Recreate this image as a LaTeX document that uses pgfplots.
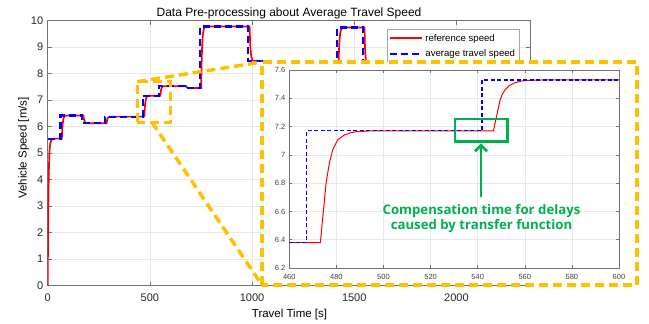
\documentclass[border=0pt]{standalone}
\usepackage{pgfplots}
\pgfplotsset{compat=1.18}
\usepackage{fontspec}
\setmainfont{Liberation Sans}
\newfontfamily\annofont{Open Sans}
\usetikzlibrary{arrows.meta}
\definecolor{myorange}{HTML}{FFC000}
\definecolor{mygreen}{HTML}{00B050}
\definecolor{myblue}{HTML}{0000FF}
\definecolor{axgray}{gray}{0.45}
\begin{document}
\begin{tikzpicture}[x=1pt,y=1pt]
\useasboundingbox (0pt,0pt) rectangle (649pt,324pt);
\begin{axis}[
  at={(47.7pt,38.3pt)}, anchor=south west, scale only axis,
  width=482.3pt, height=265pt,
  xmin=0, xmax=2360, ymin=0, ymax=10,
  xtick={0,500,1000,1500,2000}, ytick={0,1,2,3,4,5,6,7,8,9,10},
  grid=major, major grid style={gray!18, line width=0.5pt},
  axis line style={axgray, line width=0.6pt}, tick style={axgray, line width=0.6pt},
  tick align=inside, major tick length=4pt,
  /pgf/number format/assume math mode=true,
  /pgf/number format/1000 sep={},
  ticklabel style={font=\fontsize{11}{12}\selectfont, text=black!85},
  xticklabel style={yshift=-4.5pt},
  yticklabel style={xshift=-1pt},
  legend style={at={(axis description cs:0.7035,0.9675)}, anchor=north west,
    draw=gray!70, line width=0.5pt, font=\fontsize{9.6}{10}\selectfont,
    inner xsep=2pt, inner ysep=2.5pt, row sep=3.5pt, fill=white},
  legend cell align=left,
  legend image code/.code={\draw[#1] (0pt,0pt) -- (32pt,0pt);},
]
\addplot[red, line width=1.7pt] coordinates {
(0,0) (2,2.2) (4,3.6) (6,4.45) (8,4.95) (10,5.2) (13,5.38) (17,5.48) (25,5.54) (35,5.55)
(69,5.55) (71,5.89) (73,6.10) (77,6.30) (83,6.40) (93,6.42)
(175,6.42) (177,6.31) (179,6.24) (183,6.17) (189,6.14) (199,6.13)
(288,6.13) (290,6.23) (292,6.29) (296,6.345) (302,6.375) (312,6.38)
(473,6.38) (475,6.69) (477,6.88) (481,7.06) (487,7.15) (497,7.17)
(551,7.17) (553,7.31) (555,7.40) (559,7.48) (565,7.52) (575,7.53)
(677,7.53) (679,7.50) (681,7.49) (685,7.47) (691,7.46)
(751,7.46) (753,8.36) (755,8.92) (759,9.46) (765,9.72) (775,9.78)
(988,9.78) (990,9.27) (992,8.96) (996,8.66) (1002,8.51) (1012,8.48)
(1094,8.48) (1100,8.25) (1110,8.2)
(1423,8.2) (1425,8.8) (1427,9.17) (1431,9.52) (1437,9.70) (1447,9.74)
(1550,9.74) (1552,9.14) (1554,8.77) (1558,8.42) (1564,8.23) (1574,8.2)
(2360,8.2)};
\addlegendentry{reference speed}
\addplot[myblue, line width=2.2pt, dash pattern=on 7pt off 4pt] coordinates {
(0,5.55) (63,5.55) (63,6.42) (169,6.42) (169,6.13) (282,6.13) (282,6.38)
(467,6.38) (467,7.17) (545,7.17) (545,7.53) (671,7.53) (671,7.46) (745,7.46)
(745,9.78) (982,9.78) (982,8.48) (1088,8.48) (1088,8.2) (1417,8.2) (1417,9.74)
(1544,9.74) (1544,8.2) (2360,8.2)};
\addlegendentry{average travel speed}
\end{axis}
% titles and labels
\node[font=\fontsize{12}{13}\selectfont, anchor=base] at (289pt,307.5pt) {Data Pre-processing about Average Travel Speed};
\node[font=\fontsize{11.5}{13}\selectfont, anchor=base] at (289.5pt,6pt) {Travel Time [s]};
\node[font=\fontsize{11.5}{13}\selectfont, anchor=base, rotate=90] at (26.7pt,176pt) {Vehicle Speed [m/s]};
% zoom box and connectors
\draw[myorange, line width=3.5pt, dash pattern=on 9pt off 5pt] (137.3pt,201.7pt) rectangle (170.7pt,242.3pt);
\draw[myorange, line width=3.5pt, dash pattern=on 9pt off 5pt] (137.3pt,242.3pt) -- (262pt,262pt);
\draw[myorange, line width=3.5pt, dash pattern=on 9pt off 5pt] (152pt,201.7pt) -- (262pt,39pt);
\draw[myorange, line width=3.5pt, dash pattern=on 9pt off 5pt, fill=white] (262pt,39pt) rectangle (637pt,262pt);
\begin{axis}[
  at={(289.3pt,56pt)}, anchor=south west, scale only axis,
  width=329.7pt, height=198pt,
  xmin=460, xmax=600, ymin=6.2, ymax=7.6,
  xtick={460,480,500,520,540,560,580,600},
  ytick={6.2,6.4,6.6,6.8,7,7.2,7.4,7.6},
  grid=major, major grid style={gray!18, line width=0.5pt},
  axis line style={axgray, line width=0.5pt}, tick style={axgray, line width=0.5pt},
  tick align=inside, major tick length=3pt,
  /pgf/number format/assume math mode=true,
  ticklabel style={font=\fontsize{7.5}{8}\selectfont, text=black!75},
  xticklabel style={yshift=-3pt},
  yticklabel style={xshift=-0.5pt},
]
\addplot[red, line width=1pt] coordinates {
(460,6.38) (473.2,6.38) (474.1,6.54) (475,6.69) (475.6,6.80) (477,6.94) (478.4,7.034)
(480.5,7.105) (483.3,7.14) (486,7.156) (488.3,7.164) (494,7.169) (500,7.17)
(546.7,7.17) (548.1,7.28) (549.5,7.388) (550.5,7.43) (551.6,7.459) (553.3,7.488) (555.2,7.506)
(558,7.52) (560.8,7.527) (569,7.53) (600,7.53)};
\addplot[myblue, line width=1.25pt, dash pattern=on 4pt off 2.5pt] coordinates {
(460,6.38) (467.4,6.38) (467.4,7.17) (541.8,7.17) (541.8,7.53) (600,7.53)};
\end{axis}
% annotation
\draw[mygreen, line width=2.5pt] (455pt,182.3pt) rectangle (507.7pt,205pt);
\draw[mygreen, line width=2.6pt, -{Straight Barb[length=6pt,width=12pt]}] (481pt,127pt) -- (481pt,180.5pt);
\node[font=\annofont\bfseries\fontsize{13.2}{15}\selectfont, text=mygreen, align=center] at (481.5pt,105pt) {Compensation time for delays\\caused by transfer function};
\end{tikzpicture}
\end{document}
